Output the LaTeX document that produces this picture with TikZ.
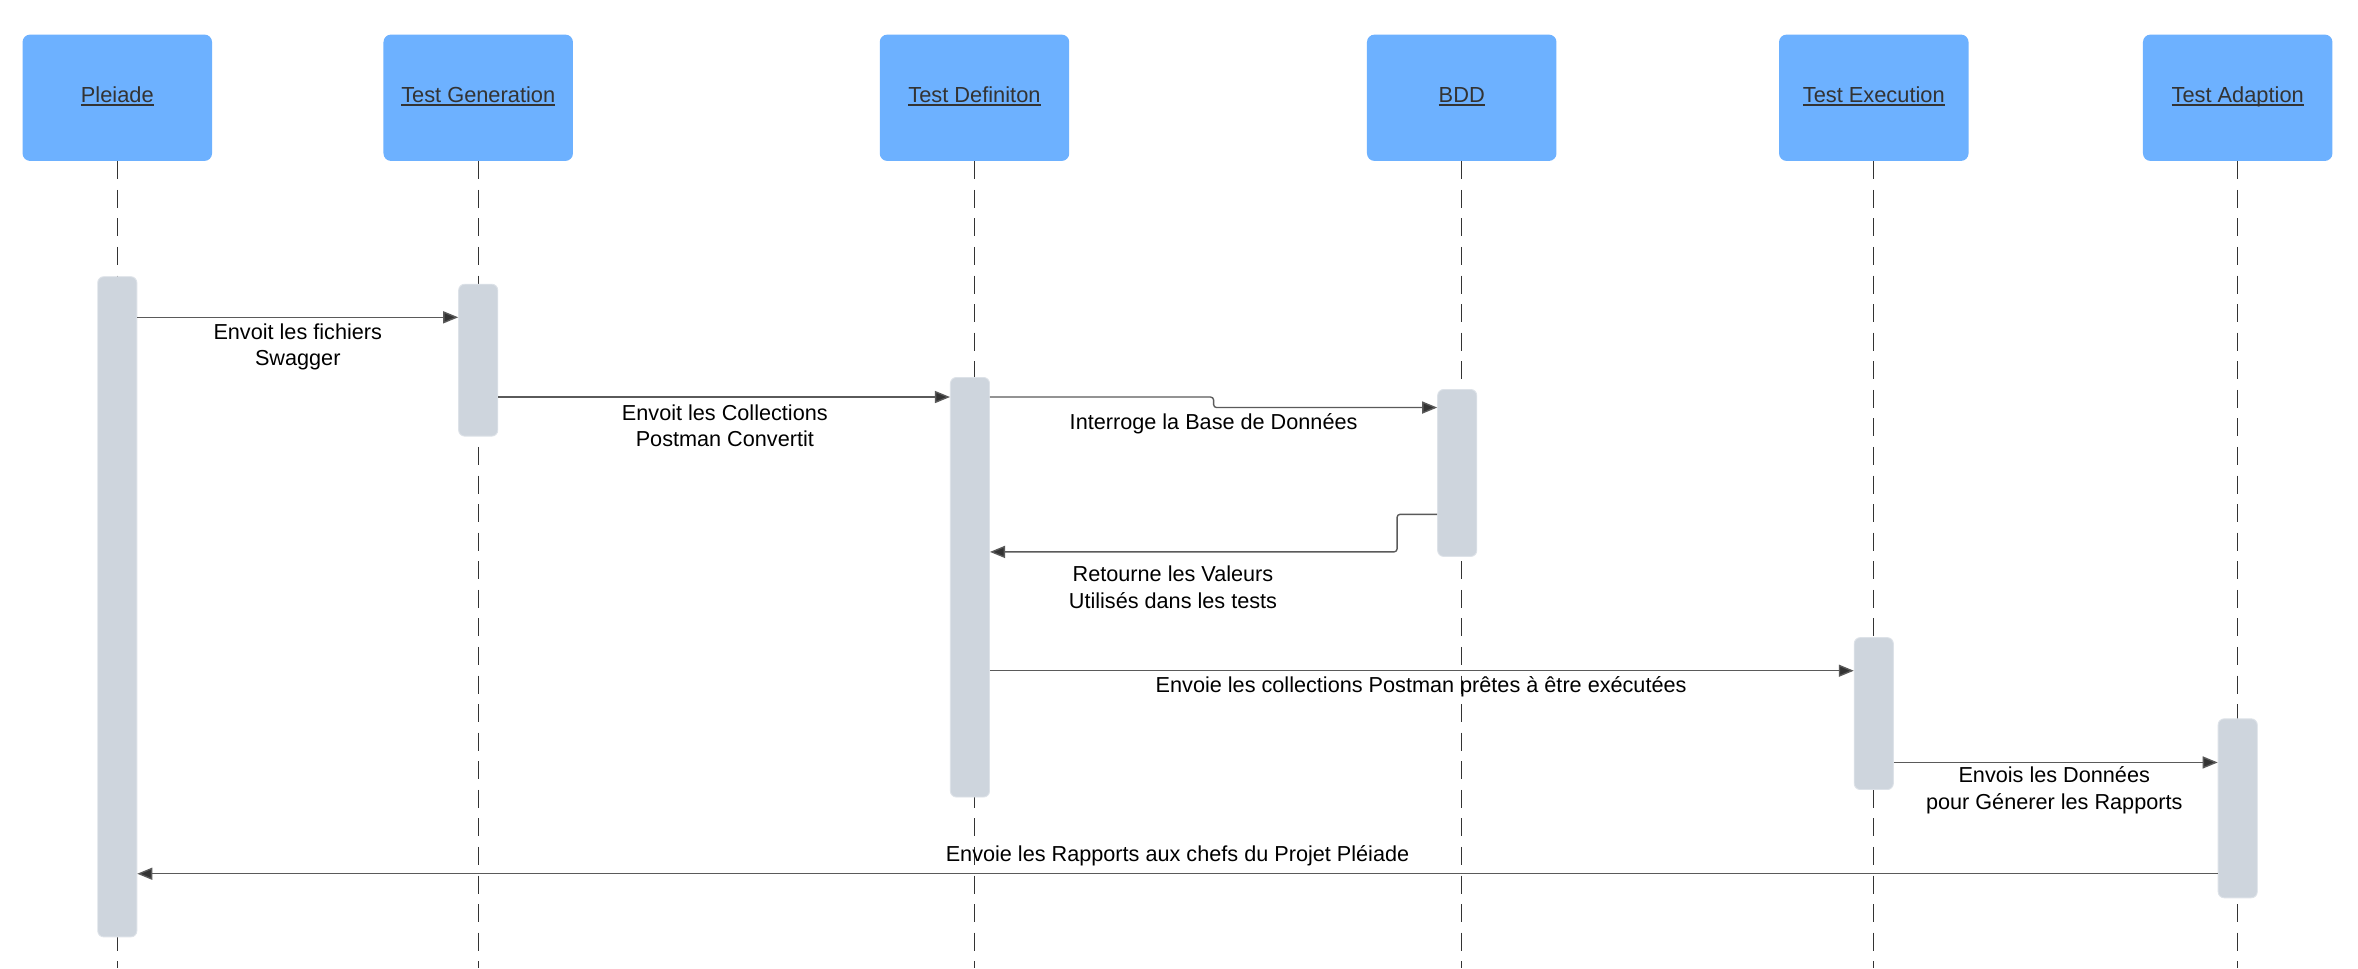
\documentclass[tikz,border=0pt]{standalone}
\usepackage{fontspec}
\setmainfont{Liberation Sans}
\newcommand\hul[1]{\setbox0\hbox{#1}\rlap{\rule[-2.2pt]{\wd0}{1.1pt}}\box0}
\usetikzlibrary{arrows.meta,calc}
\definecolor{hdr}{HTML}{6DB1FF}
\definecolor{actv}{HTML}{CED5DD}
\definecolor{actvb}{HTML}{DDE2E8}
\definecolor{ink}{HTML}{333333}
\definecolor{lin}{HTML}{5A5A5A}
\begin{document}
\begin{tikzpicture}[x=1pt,y=-1pt,
  hdrbox/.style={draw=none, fill=hdr, rounded corners=5pt, minimum width=126pt, minimum height=84pt, inner sep=0pt, text=ink, text height=10.5pt, text depth=4pt, font=\fontsize{14.5}{17}\selectfont},
  actbar/.style={draw=actvb, line width=0.6pt, fill=actv, rounded corners=4pt, minimum width=26pt, inner sep=0pt},
  lifeline/.style={draw=ink, line width=0.9pt, dash pattern=on 12pt off 7pt},
  msg/.style={draw=lin, line width=0.9pt, -{Triangle[length=10pt,width=8pt,fill=ink]}},
  lbl/.style={align=center, inner sep=0pt, font=\fontsize{14.4}{17.5}\selectfont, text=black}
]
\useasboundingbox (0,0) rectangle (1568,643.7);
\fill[white] (0,0) rectangle (1568,643.7);
\coordinate (bot) at (0,644);
% headers
\node[hdrbox] (h1) at (78,65) {\hul{Pleiade}};
\node[hdrbox] (h2) at (318,65) {\hul{Test Generation}};
\node[hdrbox] (h3) at (648,65) {\hul{Test Definiton}};
\node[hdrbox] (h4) at (972,65) {\hul{BDD}};
\node[hdrbox] (h5) at (1246,65) {\hul{Test Execution}};
\node[hdrbox] (h6) at (1488,65) {\hul{Test Adaption}};
% lifelines
\foreach \h in {h1,h2,h3,h4,h5,h6}{
  \draw[lifeline] (\h.south) -- (\h.south |- bot);
}
% activation bars
\node[actbar, minimum height=439pt] (a1) at (78,403.5) {};
\node[actbar, minimum height=101pt] (a2) at (318,239.5) {};
\node[actbar, minimum height=279pt] (a3) at (645,390.5) {};
\node[actbar, minimum height=111pt] (a4) at (969,314.5) {};
\node[actbar, minimum height=101pt] (a5) at (1246,474.5) {};
\node[actbar, minimum height=119pt] (a6) at (1488,537.5) {};
% message rows
\coordinate (y1) at (0,211);
\coordinate (y2) at (0,264);
\coordinate (y3b) at (0,271);
\coordinate (k3) at (807,0);
\coordinate (y4a) at (0,342);
\coordinate (y4b) at (0,367);
\coordinate (k4) at (929,0);
\coordinate (y5) at (0,446);
\coordinate (y6) at (0,507);
\coordinate (y7) at (0,581);
% messages
\draw[msg] (a1.east |- y1) -- (a2.west |- y1);
\draw[msg] (a2.east |- y2) -- (a3.west |- y2);
\draw[msg, rounded corners=2pt] (a3.east |- y2) -- (k3 |- y2) -- (k3 |- y3b) -- (a4.west |- y3b);
\draw[msg, rounded corners=2pt] (a4.west |- y4a) -- (k4 |- y4a) -- (k4 |- y4b) -- (a3.east |- y4b);
\draw[msg] (a3.east |- y5) -- (a5.west |- y5);
\draw[msg] (a5.east |- y6) -- (a6.west |- y6);
\draw[msg] (a6.west |- y7) -- (a1.east |- y7);
% labels
\node[lbl] (l1) at (198,230.5) {Envoit les fichiers\\Swagger};
\node[lbl] (l2) at (482,283) {Envoit les Collections\\Postman Convertit};
\node[lbl] (l3) at (807,282) {Interroge la Base de Données};
\node[lbl] (l4) at (780,390.5) {Retourne les Valeurs\\Utilisés dans les tests};
\node[lbl] (l5) at (945,457) {Envoie les collections Postman prêtes à être exécutées};
\node[lbl] (l6) at (1366,525.5) {Envois les Données\\pour Génerer les Rapports};
\node[lbl] (l7) at (783,569) {Envoie les Rapports aux chefs du Projet Pléiade};
\end{tikzpicture}
\end{document}
